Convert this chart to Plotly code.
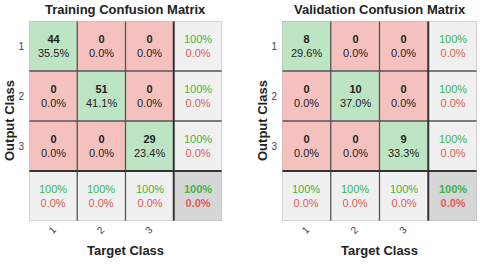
import plotly.graph_objects as go

titles = ["Training Confusion Matrix", "Validation Confusion Matrix"]
class_labels = ["1", "2", "3"]
train_counts = [[44, 0, 0], [0, 51, 0], [0, 0, 29]]
train_pcts = [["35.5%", "0.0%", "0.0%"], ["0.0%", "41.1%", "0.0%"], ["0.0%", "0.0%", "23.4%"]]
val_counts = [[8, 0, 0], [0, 10, 0], [0, 0, 9]]
val_pcts = [["29.6%", "0.0%", "0.0%"], ["0.0%", "37.0%", "0.0%"], ["0.0%", "0.0%", "33.3%"]]
row_correct = ["100%", "100%", "100%"]
row_wrong = ["0.0%", "0.0%", "0.0%"]
col_correct = ["100%", "100%", "100%"]
col_wrong = ["0.0%", "0.0%", "0.0%"]
total_correct = "100%"
total_wrong = "0.0%"

GREEN_CELL = "#bde5c4"
RED_CELL = "#f5c1be"
GRAY_CELL = "#f0f0f0"
DARK_CELL = "#d6d6d6"
GREEN_TXT = "#3bb54a"
RED_TXT = "#e05a55"
FONT = "Liberation Sans, Arial, sans-serif"

fig = go.Figure()
domains_x = [[29/480, 222/480], [282/480, 477/480]]
ydom = [1 - 221/264, 1 - 21/264]
datasets = [(train_counts, train_pcts), (val_counts, val_pcts)]

colorscale = [[0, RED_CELL], [0.25, RED_CELL], [0.25, GREEN_CELL], [0.5, GREEN_CELL],
              [0.5, GRAY_CELL], [0.75, GRAY_CELL], [0.75, DARK_CELL], [1, DARK_CELL]]

annotations = []
shapes = []
for k, (counts, pcts) in enumerate(datasets):
    xa = "x" if k == 0 else "x2"
    ya = "y" if k == 0 else "y2"
    n = len(counts)
    z = []
    for i in range(n + 1):
        row = []
        for j in range(n + 1):
            if i == n and j == n:
                row.append(3)
            elif i == n or j == n:
                row.append(2)
            elif i == j:
                row.append(1)
            else:
                row.append(0)
        z.append(row)
    fig.add_trace(go.Heatmap(z=z, x=list(range(n + 1)), y=list(range(n + 1)),
                             colorscale=colorscale, zmin=0, zmax=3, showscale=False,
                             hoverinfo="skip", xaxis=xa, yaxis=ya))
    for i in range(n):
        for j in range(n):
            annotations.append(dict(x=j, y=i, xref=xa, yref=ya, showarrow=False,
                                    text=f"<b>{counts[i][j]}</b><br>{pcts[i][j]}",
                                    font=dict(family=FONT, size=11, color="#222")))
        annotations.append(dict(x=n, y=i, xref=xa, yref=ya, showarrow=False,
                                text=f"<span style='color:{GREEN_TXT}'>{row_correct[i]}</span><br>"
                                     f"<span style='color:{RED_TXT}'>{row_wrong[i]}</span>",
                                font=dict(family=FONT, size=11)))
        annotations.append(dict(x=i, y=n, xref=xa, yref=ya, showarrow=False,
                                text=f"<span style='color:{GREEN_TXT}'>{col_correct[i]}</span><br>"
                                     f"<span style='color:{RED_TXT}'>{col_wrong[i]}</span>",
                                font=dict(family=FONT, size=11)))
    annotations.append(dict(x=n, y=n, xref=xa, yref=ya, showarrow=False,
                            text=f"<b><span style='color:{GREEN_TXT}'>{total_correct}</span><br>"
                                 f"<span style='color:{RED_TXT}'>{total_wrong}</span></b>",
                            font=dict(family=FONT, size=11)))
    for b in [0.5, 1.5]:
        shapes.append(dict(type="line", xref=xa, yref=ya, x0=b, x1=b, y0=-0.5, y1=n + 0.5,
                           line=dict(color="#555555", width=1.3)))
        shapes.append(dict(type="line", xref=xa, yref=ya, y0=b, y1=b, x0=-0.5, x1=n + 0.5,
                           line=dict(color="#555555", width=1.3)))
    shapes.append(dict(type="line", xref=xa, yref=ya, x0=n - 0.5, x1=n - 0.5, y0=-0.5, y1=n + 0.5,
                       line=dict(color="#333", width=2)))
    shapes.append(dict(type="line", xref=xa, yref=ya, y0=n - 0.5, y1=n - 0.5, x0=-0.5, x1=n + 0.5,
                       line=dict(color="#333", width=2)))
    shapes.append(dict(type="rect", xref=xa, yref=ya, x0=-0.5, x1=n + 0.5, y0=-0.5, y1=n + 0.5,
                       line=dict(color="#bbbbbb", width=1)))
    xc = (domains_x[k][0] + domains_x[k][1]) / 2
    annotations.append(dict(x=xc, y=1 - 10/264, xref="paper", yref="paper", showarrow=False,
                            text=f"<b>{titles[k]}</b>", font=dict(family=FONT, size=13, color="#222"),
                            xanchor="center", yanchor="middle"))
    annotations.append(dict(x=xc, y=1 - 250/264, xref="paper", yref="paper", showarrow=False,
                            text="<b>Target Class</b>", font=dict(family=FONT, size=13, color="#222"),
                            xanchor="center", yanchor="middle"))
    annotations.append(dict(x=domains_x[k][0] - 20/480, y=(ydom[0] + ydom[1]) / 2, xref="paper", yref="paper",
                            showarrow=False, textangle=-90,
                            text="<b>Output Class</b>", font=dict(family=FONT, size=13, color="#222"),
                            xanchor="center", yanchor="middle"))

axis_common = dict(showgrid=False, zeroline=False, ticks="", showline=False)
fig.update_layout(
    width=480, height=264, margin=dict(l=0, r=0, t=0, b=0),
    paper_bgcolor="white", plot_bgcolor="white",
    font=dict(family=FONT),
    xaxis=dict(domain=domains_x[0], range=[-0.5, 3.5], tickvals=[0, 1, 2], ticktext=class_labels,
               tickangle=-45, tickfont=dict(size=10, color="#444"), anchor="y", **axis_common),
    yaxis=dict(domain=ydom, range=[3.5, -0.5], tickvals=[0, 1, 2], ticktext=class_labels,
               tickfont=dict(size=10, color="#444"), anchor="x", ticklabelstandoff=4, **axis_common),
    xaxis2=dict(domain=domains_x[1], range=[-0.5, 3.5], tickvals=[0, 1, 2], ticktext=class_labels,
                tickangle=-45, tickfont=dict(size=10, color="#444"), anchor="y2", **axis_common),
    yaxis2=dict(domain=ydom, range=[3.5, -0.5], tickvals=[0, 1, 2], ticktext=class_labels,
                tickfont=dict(size=10, color="#444"), anchor="x2", ticklabelstandoff=4, **axis_common),
    annotations=annotations, shapes=shapes,
)
fig.write_html("out.html", config={"displayModeBar": False},
               post_script="document.body.style.margin='0';document.body.style.overflow='hidden';")
